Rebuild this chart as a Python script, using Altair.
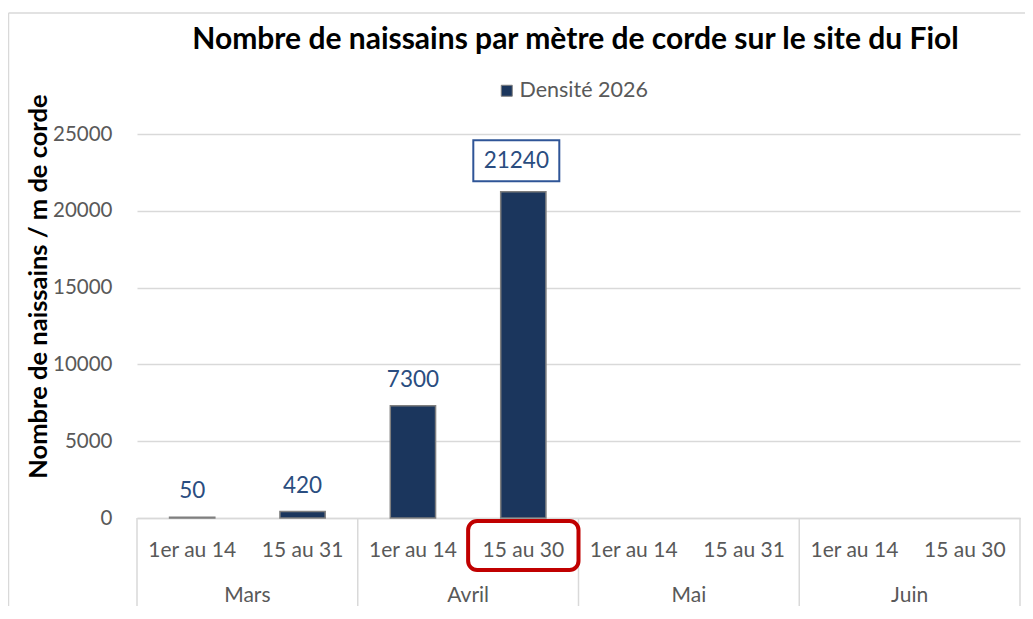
import altair as alt
import pandas as pd

# ---- data ----
title_text = "Nombre de naissains par mètre de corde sur le site du Fiol"
y_title = "Nombre de naissains / m de corde"
months = ["Mars", "Avril", "Mai", "Juin"]
period_month = ["Mars", "Mars", "Avril", "Avril", "Mai", "Mai", "Juin", "Juin"]
periods = ["1er au 14", "15 au 31", "1er au 14", "15 au 30",
           "1er au 14", "15 au 31", "1er au 14", "15 au 30"]
densite = [50, 420, 7300, 21240, None, None, None, None]
y_ticks = [0, 5000, 10000, 15000, 20000, 25000]
serie = "Densité 2026"
highlight_key = "Avril|15 au 30"
boxed_value = 21240

keys = [f"{m}|{p}" for m, p in zip(period_month, periods)]
df = pd.DataFrame({"key": keys, "mois": period_month, "periode": periods,
                   "densite": densite, "serie": serie})
bars_df = df.dropna(subset=["densite"])
labels_df = bars_df[bars_df["densite"] != boxed_value]
boxed_df = bars_df[bars_df["densite"] == boxed_value]
hl_df = df[df["key"] == highlight_key]
mdf = pd.DataFrame({"key": [keys[i] for i in range(0, 8, 2)], "mois": months})
end_df = pd.DataFrame({"key": [keys[-1]]})
one = pd.DataFrame({"t": [title_text]})

W, H = 883, 384
FONT = "Lato"
GRAY_TXT = "#595959"
GRID = "#d9d9d9"
NAVY = "#1b365d"
BLUE_TXT = "#2a4d80"

xscale = alt.Scale(domain=keys, paddingInner=0, paddingOuter=0)
yscale = alt.Scale(domain=[0, 25000], nice=False)

x_axis = alt.Axis(title=None, labelExpr="split(datum.value, '|')[1]", labelAngle=0,
                  ticks=False, tickSize=0, labelPadding=32, labelBaseline="middle",
                  labelFont=FONT, labelFontSize=21, labelColor=GRAY_TXT,
                  domainColor=GRID, domainWidth=1.5, grid=False, labelAlign="center",
                  labelOverlap=False)
y_axis = alt.Axis(values=y_ticks, title=y_title,
                  titleFont=FONT, titleFontSize=25.5, titleFontWeight="bold", titleColor="#000000",
                  titleX=-99, titleY=152, titleAngle=-90,
                  titleAlign="center", titleBaseline="middle",
                  labelFont=FONT, labelFontSize=20.5, labelColor=GRAY_TXT, labelPadding=25,
                  domain=False, ticks=False, grid=True, gridColor=GRID, gridWidth=1.5,
                  format="d")


def X(**kw):
    return alt.X("key:N", scale=xscale, axis=x_axis, **kw)


def Y():
    return alt.Y("densite:Q", scale=yscale, axis=y_axis)


bars = alt.Chart(bars_df).mark_bar(
    width=alt.RelativeBandSize(0.41), stroke="#7f7f7f", strokeWidth=1.5
).encode(
    x=X(),
    y=Y(),
    color=alt.Color("serie:N", scale=alt.Scale(range=[NAVY]),
                    legend=alt.Legend(title=None, orient="none", legendX=359, legendY=-54,
                                      direction="horizontal", symbolType="square",
                                      symbolSize=121, symbolStrokeColor="#7f7f7f",
                                      symbolStrokeWidth=1, labelFont=FONT, labelFontSize=21.5,
                                      labelColor=GRAY_TXT, labelOffset=2, padding=0)),
)

labels = alt.Chart(labels_df).mark_text(
    font=FONT, fontSize=22.5, color=BLUE_TXT, baseline="middle", dy=-26
).encode(x=X(), y=Y(), text=alt.Text("densite:Q", format="d"))

box_shape = "M-1.163,-1.2 L0.837,-1.2 L0.837,-0.244 L-1.163,-0.244 Z"
box = alt.Chart(boxed_df).mark_point(
    shape=box_shape, size=86 * 86, filled=True, fill="white", stroke="#2F5597",
    strokeWidth=2, opacity=1, fillOpacity=1
).encode(x=X(), y=Y())
boxed_text = alt.Chart(boxed_df).mark_text(
    font=FONT, fontSize=22.5, color=BLUE_TXT, baseline="middle", dy=-31, dx=-7
).encode(x=X(), y=Y(), text=alt.Text("densite:Q", format="d"))

month_text = alt.Chart(mdf).mark_text(
    font=FONT, fontSize=21, color=GRAY_TXT, baseline="middle"
).encode(x=X(bandPosition=1), y=alt.value(H + 78), text="mois:N")

sep_start = alt.Chart(mdf).mark_rule(color=GRID, strokeWidth=1.5).encode(
    x=X(bandPosition=0), y=alt.value(H), y2=alt.value(H + 100))
sep_end = alt.Chart(end_df).mark_rule(color=GRID, strokeWidth=1.5).encode(
    x=X(bandPosition=1), y=alt.value(H), y2=alt.value(H + 100))

hl_box = alt.Chart(hl_df).mark_rect(
    fill="transparent", stroke="#C00000", strokeWidth=4, cornerRadius=9
).encode(x=X(), y=alt.value(H + 3), y2=alt.value(H + 52))

title = alt.Chart(one).mark_text(
    font=FONT, fontSize=30, fontWeight="bold", color="#000000", baseline="middle"
).encode(x=alt.value(W / 2 - 3), y=alt.value(-94), text="t:N")

frame_left = alt.Chart(one).mark_rule(color=GRID, strokeWidth=1.5).encode(
    x=alt.value(-128.5), y=alt.value(-121), y2=alt.value(H + 110))
frame_top = alt.Chart(one).mark_rule(color=GRID, strokeWidth=1.5).encode(
    x=alt.value(-128.5), x2=alt.value(W + 20), y=alt.value(-121))

chart = alt.layer(
    bars, labels, box, boxed_text, month_text, sep_start, sep_end, hl_box,
    title, frame_left, frame_top
).properties(
    width=W, height=H,
    padding={"left": 129, "top": 126, "right": 5, "bottom": 88},
    autosize=alt.AutoSizeParams(type="none"),
).configure_view(stroke=None)

chart.save("out.html", embed_options={"renderer": "svg", "actions": False})
